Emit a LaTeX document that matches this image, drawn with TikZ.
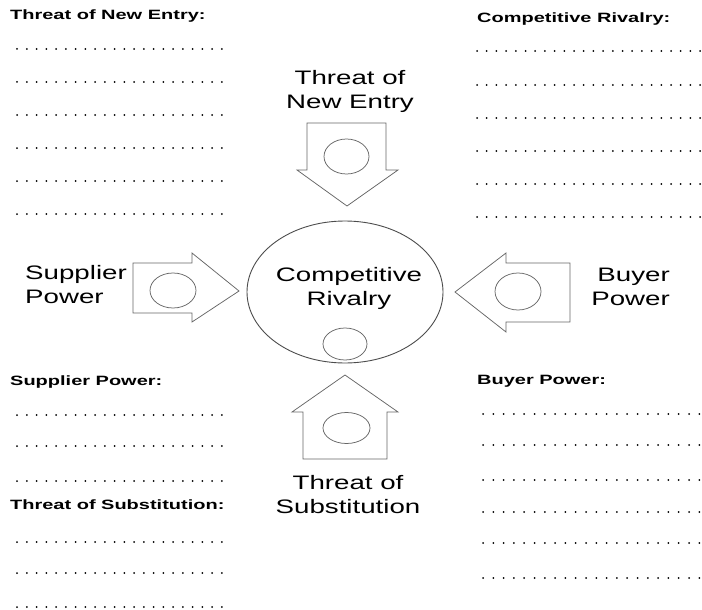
\documentclass[tikz,border=0pt]{standalone}
\usepackage{fontspec}
\setmainfont{Liberation Sans}
\newfontfamily\forcefont[FakeStretch=1.42]{Liberation Sans}
\newfontfamily\headfont[FakeStretch=1.48]{Liberation Sans}
\begin{document}
\begin{tikzpicture}[x=1pt,y=-1pt,
  heading/.style={font=\headfont\bfseries\fontsize{13.5}{15}\selectfont, anchor=base west, inner sep=0},
  force/.style={font=\forcefont\fontsize{19.5}{23.5}\selectfont, inner sep=0},
  blanks/.style={line width=2pt, line cap=round, dash pattern=on 0pt off #1},
  outline/.style={draw=black!60, line width=0.75pt, line join=miter},
  ring/.style={draw=black!60, line width=0.75pt},
  bigring/.style={draw=black!70, line width=0.9pt}]
\useasboundingbox (0,0) rectangle (702,610);

% ---- note headings ----
\node[heading] (hentry)  at (10,19.5)  {Threat of New Entry:};
\node[heading] (hrival)  at (477,22.5) {Competitive Rivalry:};
\node[heading] (hsupp)   at (10,385)   {Supplier Power:};
\node[heading] (hsubst)  at (10,509)   {Threat of Substitution:};
\node[heading] (hbuyer)  at (477,384)  {Buyer Power:};

% ---- dotted writing lines ----
\foreach \y in {49,82,115,148,181,214}
  \draw[blanks=9.76pt] (17,\y) -- (222.5,\y);
\foreach \y in {51,85,118,151,184,217}
  \draw[blanks=9.7pt] (477,\y) -- (700.6,\y);
\foreach \y in {415,446,481}
  \draw[blanks=9.76pt] (17,\y) -- (222.5,\y);
\foreach \y in {542,573,607}
  \draw[blanks=9.76pt] (17,\y) -- (222.5,\y);
\foreach \y in {414,445,480,512,543,578}
  \draw[blanks=10.3pt] (483,\y) -- (700,\y);

% ---- centre: competitive rivalry (base anchor = last line) ----
\draw[bigring] (345,292) ellipse [x radius=98, y radius=71];
\node[force, align=center, anchor=base] (rivalry) at (349,305) {Competitive\\Rivalry};
\draw[ring] (345,344) ellipse [x radius=22, y radius=16];

% ---- threat of new entry (arrow pointing down) ----
\node[force, align=center, anchor=base] (newentry) at (350,108) {Threat of\\New Entry};
\draw[outline] (307,123) -- (386,123) -- (386,170) -- (398,170) -- (347,206)
  -- (297,170) -- (307,170) -- cycle;
\draw[ring] (346.5,156.5) ellipse [x radius=22.5, y radius=17.5];

% ---- supplier power (arrow pointing right) ----
\node[force, align=left, anchor=base west] (supplier) at (25,303) {Supplier\\Power};
\draw[outline] (133,263) -- (192,263) -- (192,253) -- (239,291) -- (192,322)
  -- (192,313) -- (133,313) -- cycle;
\draw[ring] (173,290.5) ellipse [x radius=23, y radius=17.5];

% ---- buyer power (arrow pointing left) ----
\node[force, align=right, anchor=base east] (buyer) at (670,305) {Buyer\\Power};
\draw[outline] (570,263) -- (506,263) -- (506,253) -- (455,292) -- (506,332)
  -- (506,322) -- (570,322) -- cycle;
\draw[ring] (518,291.5) ellipse [x radius=23, y radius=18.5];

% ---- threat of substitution (arrow pointing up) ----
\draw[outline] (303,459) -- (303,412) -- (292,412) -- (345,375) -- (398,412)
  -- (387,412) -- (387,459) -- cycle;
\draw[ring] (346.5,428) ellipse [x radius=23.5, y radius=15.5];
\node[force, align=center, anchor=base] (substitution) at (348,513) {Threat of\\Substitution};
\end{tikzpicture}
\end{document}
